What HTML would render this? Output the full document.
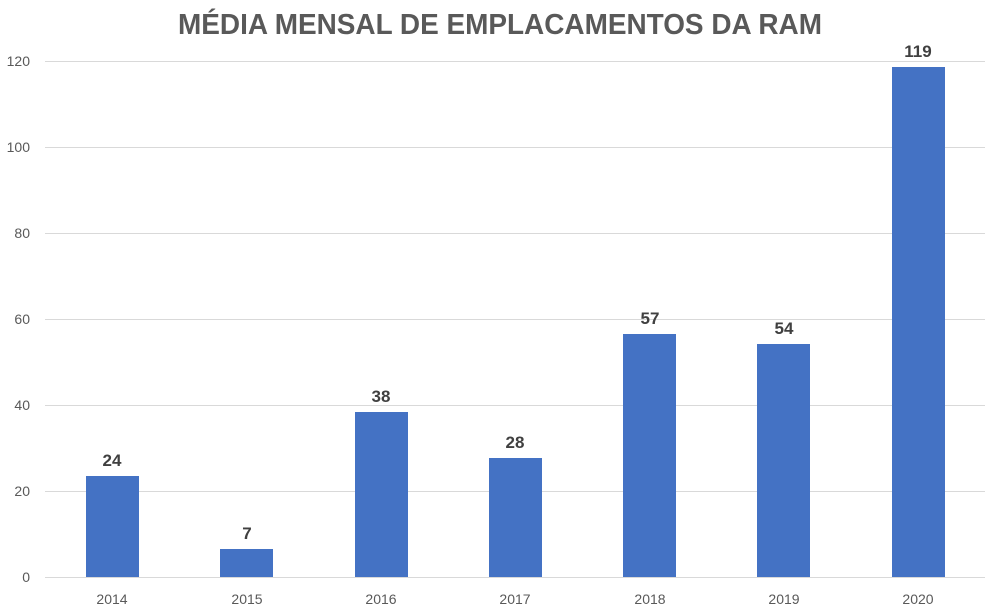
<!DOCTYPE html>
<html><head><meta charset="utf-8"><style>
body{margin:0;background:#fff;}
svg{display:block}
</style></head><body>
<svg width="1005" height="616" xmlns="http://www.w3.org/2000/svg" font-family="Liberation Sans, sans-serif">
<rect width="1005" height="616" fill="#fff"/>
<text x="500" y="34" text-anchor="middle" font-size="29" font-weight="bold" fill="#595959" textLength="644" lengthAdjust="spacingAndGlyphs">MÉDIA MENSAL DE EMPLACAMENTOS DA RAM</text>
<g stroke="#d9d9d9" stroke-width="1">
<line x1="45" x2="985" y1="61.5" y2="61.5"/>
<line x1="45" x2="985" y1="147.5" y2="147.5"/>
<line x1="45" x2="985" y1="233.5" y2="233.5"/>
<line x1="45" x2="985" y1="319.5" y2="319.5"/>
<line x1="45" x2="985" y1="405.5" y2="405.5"/>
<line x1="45" x2="985" y1="491.5" y2="491.5"/>
<line x1="45" x2="985" y1="577.5" y2="577.5"/>
</g>
<g font-size="14" fill="#595959" text-anchor="end">
<text x="30" y="66">120</text><text x="30" y="152">100</text><text x="30" y="238">80</text>
<text x="30" y="324">60</text><text x="30" y="410">40</text><text x="30" y="496">20</text><text x="30" y="582">0</text>
</g>
<g fill="#4472c4">
<rect x="86" y="476" width="53" height="101"/>
<rect x="220" y="549" width="53" height="28"/>
<rect x="355" y="412" width="53" height="165"/>
<rect x="489" y="458" width="53" height="119"/>
<rect x="623" y="334" width="53" height="243"/>
<rect x="757" y="344" width="53" height="233"/>
<rect x="892" y="67" width="53" height="510"/>
</g>
<g font-size="17" font-weight="bold" fill="#404040" text-anchor="middle">
<text x="112" y="466">24</text><text x="247" y="539">7</text><text x="381" y="402">38</text>
<text x="515" y="448">28</text><text x="650" y="324">57</text><text x="784" y="334">54</text><text x="918" y="57">119</text>
</g>
<g font-size="14" fill="#595959" text-anchor="middle">
<text x="112" y="604">2014</text><text x="247" y="604">2015</text><text x="381" y="604">2016</text>
<text x="515" y="604">2017</text><text x="650" y="604">2018</text><text x="784" y="604">2019</text><text x="918" y="604">2020</text>
</g>
</svg>
</body></html>
